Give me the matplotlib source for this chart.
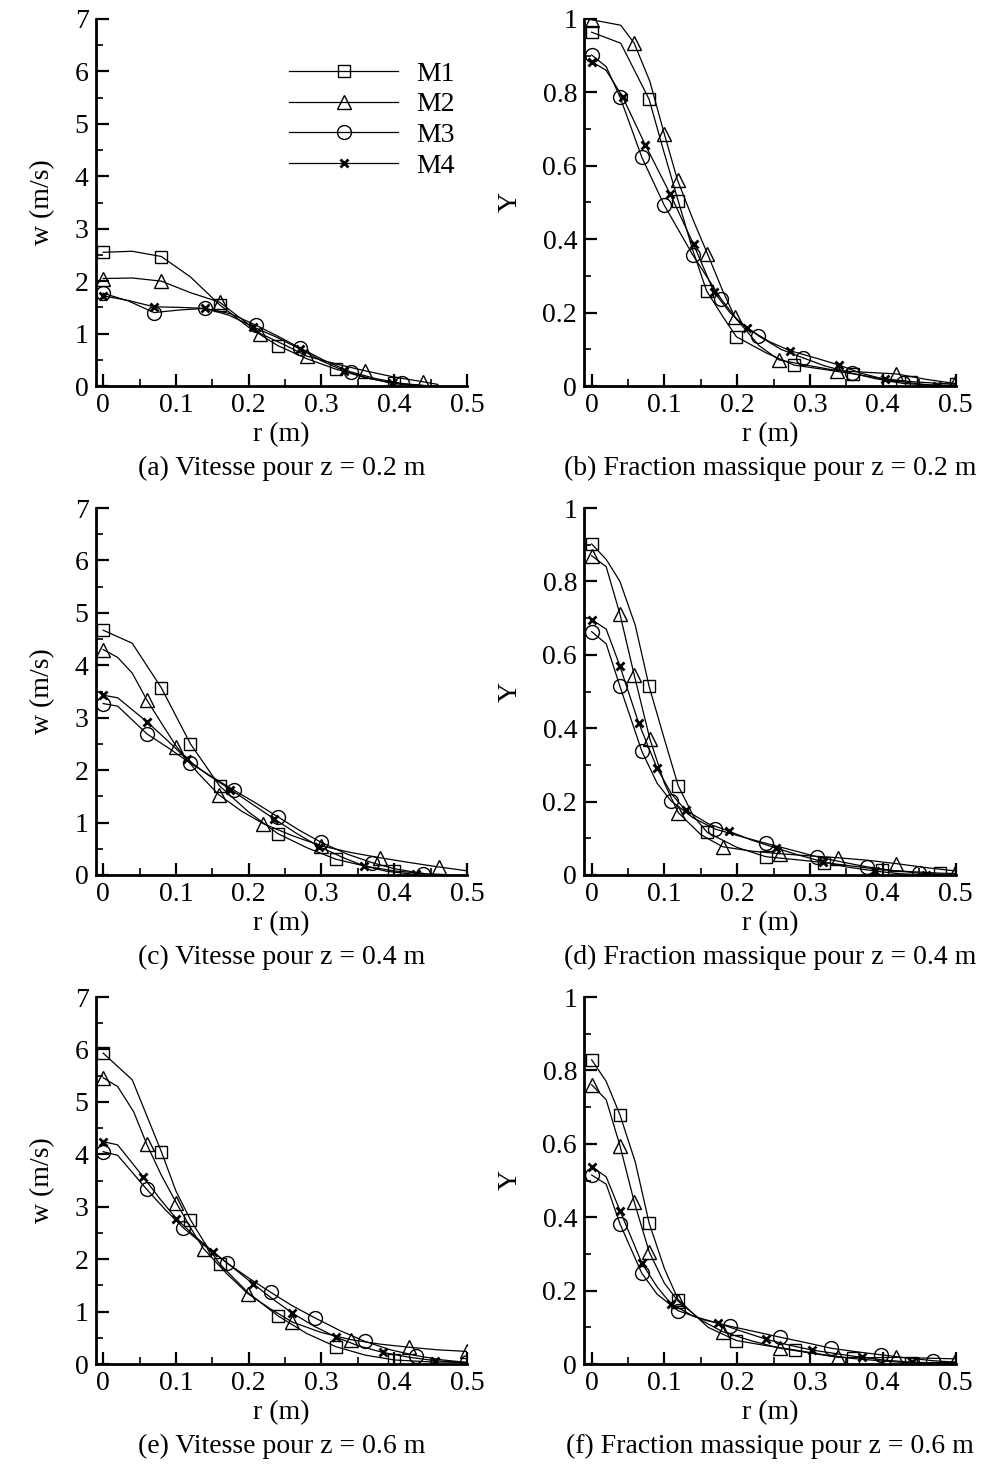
import matplotlib
matplotlib.use('Agg')
import matplotlib.pyplot as plt
from matplotlib.ticker import MultipleLocator

# ---- data read off the figure : r (m) and value, marker indices ----
# (a) w, z = 0.2 m
a_m1_r = [0, 0.04, 0.08, 0.12, 0.16, 0.20, 0.24, 0.28, 0.32, 0.36, 0.40, 0.44, 0.46]
a_m1_v = [2.55, 2.57, 2.47, 2.08, 1.55, 1.12, 0.77, 0.52, 0.32, 0.16, 0.05, 0.01, 0.0]
a_m1_mk = [0, 2, 4, 6, 8, 10]
a_m2_r = [0, 0.04, 0.08, 0.12, 0.16, 0.19, 0.216, 0.25, 0.28, 0.32, 0.36, 0.40, 0.44, 0.46]
a_m2_v = [2.05, 2.06, 2.0, 1.78, 1.6, 1.28, 1.0, 0.78, 0.57, 0.42, 0.29, 0.17, 0.08, 0.03]
a_m2_mk = [0, 2, 4, 6, 8, 10, 12]
a_m3_r = [0, 0.035, 0.07, 0.105, 0.14, 0.175, 0.21, 0.24, 0.27, 0.305, 0.34, 0.375, 0.41, 0.44]
a_m3_v = [1.77, 1.62, 1.40, 1.45, 1.48, 1.38, 1.16, 0.95, 0.73, 0.48, 0.27, 0.14, 0.05, 0.01]
a_m3_mk = [0, 2, 4, 6, 8, 10, 12]
a_m4_r = [0, 0.035, 0.07, 0.105, 0.14, 0.173, 0.206, 0.24, 0.271, 0.30, 0.331, 0.365, 0.397, 0.43]
a_m4_v = [1.72, 1.63, 1.51, 1.50, 1.48, 1.35, 1.13, 0.92, 0.70, 0.48, 0.29, 0.15, 0.05, 0.01]
a_m4_mk = [0, 2, 4, 6, 8, 10, 12]

# (b) Y, z = 0.2 m
b_m1_r = [0, 0.04, 0.079, 0.099, 0.119, 0.139, 0.158, 0.18, 0.199, 0.24, 0.278, 0.32, 0.359, 0.40, 0.439, 0.47, 0.5]
b_m1_v = [0.964, 0.934, 0.781, 0.64, 0.504, 0.37, 0.259, 0.19, 0.134, 0.09, 0.057, 0.045, 0.033, 0.02, 0.012, 0.008, 0.005]
b_m1_mk = [0, 2, 4, 6, 8, 10, 12, 14, 16]
b_m2_r = [0, 0.04, 0.0585, 0.08, 0.0997, 0.118, 0.14, 0.159, 0.18, 0.197, 0.23, 0.2575, 0.30, 0.3376, 0.38, 0.4186, 0.46, 0.499]
b_m2_v = [0.998, 0.983, 0.934, 0.83, 0.688, 0.561, 0.45, 0.361, 0.26, 0.187, 0.11, 0.071, 0.055, 0.042, 0.037, 0.033, 0.018, 0.007]
b_m2_mk = [0, 2, 4, 5, 7, 9, 11, 13, 15, 17]
b_m3_r = [0, 0.02, 0.0389, 0.069, 0.0997, 0.139, 0.178, 0.20, 0.229, 0.26, 0.29, 0.32, 0.358, 0.39, 0.428, 0.46, 0.5]
b_m3_v = [0.902, 0.87, 0.788, 0.623, 0.493, 0.357, 0.237, 0.18, 0.137, 0.10, 0.077, 0.055, 0.035, 0.02, 0.007, 0.003, 0.002]
b_m3_mk = [0, 2, 3, 4, 5, 6, 8, 10, 12, 14]
b_m4_r = [0, 0.02, 0.0425, 0.0737, 0.108, 0.14, 0.168, 0.19, 0.214, 0.245, 0.273, 0.31, 0.34, 0.37, 0.403, 0.44, 0.474, 0.5]
b_m4_v = [0.884, 0.86, 0.788, 0.657, 0.523, 0.386, 0.257, 0.2, 0.157, 0.12, 0.096, 0.075, 0.057, 0.035, 0.018, 0.008, 0.001, 0.0]
b_m4_mk = [0, 2, 3, 4, 5, 6, 8, 10, 12, 14, 16]

# (c) w, z = 0.4 m
c_m1_r = [0, 0.04, 0.08, 0.12, 0.16, 0.20, 0.24, 0.28, 0.32, 0.36, 0.40, 0.44]
c_m1_v = [4.67, 4.42, 3.57, 2.50, 1.70, 1.2, 0.79, 0.52, 0.30, 0.17, 0.077, 0.03]
c_m1_mk = [0, 2, 3, 4, 6, 8, 10]
c_m2_r = [0, 0.02, 0.04, 0.0604, 0.08, 0.1007, 0.13, 0.159, 0.19, 0.22, 0.26, 0.30, 0.34, 0.38, 0.42, 0.461, 0.5]
c_m2_v = [4.30, 4.15, 3.85, 3.33, 2.9, 2.45, 1.95, 1.53, 1.22, 0.98, 0.75, 0.555, 0.43, 0.33, 0.24, 0.153, 0.08]
c_m2_mk = [0, 3, 5, 7, 9, 11, 13, 15]
c_m3_r = [0, 0.02, 0.0604, 0.09, 0.12, 0.15, 0.1795, 0.21, 0.24, 0.27, 0.30, 0.335, 0.3695, 0.40, 0.44, 0.47]
c_m3_v = [3.27, 3.22, 2.69, 2.42, 2.13, 1.87, 1.62, 1.37, 1.11, 0.85, 0.62, 0.40, 0.236, 0.12, 0.026, 0.005]
c_m3_mk = [0, 2, 4, 6, 8, 10, 12, 14]
c_m4_r = [0, 0.02, 0.0604, 0.088, 0.115, 0.145, 0.175, 0.205, 0.235, 0.265, 0.297, 0.33, 0.359, 0.39, 0.43]
c_m4_v = [3.43, 3.38, 2.92, 2.57, 2.21, 1.9, 1.63, 1.35, 1.07, 0.8, 0.54, 0.33, 0.17, 0.07, 0.01]
c_m4_mk = [0, 2, 4, 6, 8, 10, 12, 14]

# (d) Y, z = 0.4 m
d_m1_r = [0, 0.02, 0.0389, 0.06, 0.079, 0.10, 0.119, 0.14, 0.159, 0.2, 0.239, 0.28, 0.319, 0.36, 0.399, 0.44, 0.479, 0.5]
d_m1_v = [0.902, 0.86, 0.80, 0.68, 0.514, 0.37, 0.243, 0.16, 0.116, 0.075, 0.050, 0.042, 0.034, 0.024, 0.014, 0.009, 0.005, 0.004]
d_m1_mk = [0, 4, 6, 8, 10, 12, 14, 16]
d_m2_r = [0, 0.02, 0.0389, 0.0586, 0.08, 0.10, 0.119, 0.15, 0.18, 0.22, 0.259, 0.30, 0.339, 0.38, 0.4186, 0.46, 0.5]
d_m2_v = [0.870, 0.84, 0.711, 0.544, 0.371, 0.25, 0.170, 0.11, 0.077, 0.065, 0.058, 0.052, 0.047, 0.04, 0.031, 0.02, 0.011]
d_m2_mk = [0, 2, 3, 4, 6, 8, 10, 12, 14, 16]
d_m3_r = [0, 0.02, 0.0389, 0.069, 0.09, 0.109, 0.14, 0.17, 0.205, 0.24, 0.275, 0.309, 0.345, 0.379, 0.415, 0.45, 0.48]
d_m3_v = [0.663, 0.63, 0.514, 0.337, 0.25, 0.202, 0.155, 0.125, 0.105, 0.086, 0.068, 0.050, 0.035, 0.022, 0.012, 0.005, 0.002]
d_m3_mk = [0, 2, 3, 5, 7, 9, 11, 13, 15]
d_m4_r = [0, 0.02, 0.0389, 0.0645, 0.0897, 0.11, 0.129, 0.16, 0.189, 0.22, 0.254, 0.285, 0.318, 0.35, 0.389, 0.42, 0.459, 0.49]
d_m4_v = [0.696, 0.67, 0.569, 0.415, 0.292, 0.22, 0.177, 0.14, 0.119, 0.095, 0.073, 0.054, 0.036, 0.022, 0.011, 0.004, 0.0, 0.0]
d_m4_mk = [0, 2, 3, 4, 6, 8, 10, 12, 14, 16]

# (e) w, z = 0.6 m
e_m1_r = [0, 0.04, 0.08, 0.10, 0.12, 0.14, 0.16, 0.20, 0.24, 0.28, 0.32, 0.36, 0.40, 0.45, 0.5]
e_m1_v = [5.93, 5.42, 4.05, 3.3, 2.75, 2.3, 1.91, 1.35, 0.92, 0.58, 0.33, 0.17, 0.077, 0.04, 0.03]
e_m1_mk = [0, 2, 4, 6, 8, 10, 12]
e_m2_r = [0, 0.02, 0.042, 0.06, 0.08, 0.1007, 0.12, 0.138, 0.17, 0.199, 0.23, 0.26, 0.30, 0.34, 0.38, 0.42, 0.46, 0.5]
e_m2_v = [5.46, 5.29, 4.81, 4.19, 3.6, 3.07, 2.6, 2.20, 1.72, 1.34, 1.05, 0.80, 0.6, 0.465, 0.38, 0.32, 0.27, 0.24]
e_m2_mk = [0, 3, 5, 7, 9, 11, 13, 15, 17]
e_m3_r = [0, 0.02, 0.06, 0.085, 0.11, 0.14, 0.17, 0.20, 0.23, 0.26, 0.291, 0.325, 0.36, 0.395, 0.43, 0.465, 0.5]
e_m3_v = [4.05, 3.98, 3.33, 2.95, 2.60, 2.25, 1.93, 1.64, 1.37, 1.11, 0.88, 0.64, 0.43, 0.27, 0.16, 0.08, 0.03]
e_m3_mk = [0, 2, 4, 6, 8, 10, 12, 14, 16]
e_m4_r = [0, 0.02, 0.055, 0.078, 0.1007, 0.125, 0.151, 0.18, 0.206, 0.233, 0.26, 0.29, 0.3205, 0.35, 0.3846, 0.42, 0.4556, 0.5]
e_m4_v = [4.24, 4.18, 3.57, 3.15, 2.77, 2.45, 2.14, 1.82, 1.53, 1.24, 0.97, 0.72, 0.51, 0.35, 0.22, 0.13, 0.064, 0.02]
e_m4_mk = [0, 2, 4, 6, 8, 10, 12, 14, 16]

# (f) Y, z = 0.6 m
f_m1_r = [0, 0.02, 0.0389, 0.06, 0.079, 0.10, 0.119, 0.16, 0.199, 0.24, 0.2795, 0.32, 0.359, 0.40, 0.439, 0.47, 0.5]
f_m1_v = [0.829, 0.77, 0.679, 0.55, 0.384, 0.26, 0.175, 0.10, 0.064, 0.05, 0.038, 0.025, 0.015, 0.008, 0.003, 0.004, 0.005]
f_m1_mk = [0, 2, 4, 6, 8, 10, 12, 14]
f_m2_r = [0, 0.02, 0.0389, 0.0586, 0.079, 0.10, 0.119, 0.15, 0.18, 0.22, 0.259, 0.30, 0.339, 0.38, 0.4186, 0.46, 0.5]
f_m2_v = [0.761, 0.72, 0.595, 0.441, 0.306, 0.22, 0.171, 0.12, 0.088, 0.063, 0.043, 0.03, 0.018, 0.017, 0.018, 0.016, 0.014]
f_m2_mk = [0, 2, 3, 4, 6, 8, 10, 12, 14, 16]
f_m3_r = [0, 0.02, 0.0389, 0.069, 0.09, 0.119, 0.155, 0.19, 0.225, 0.259, 0.295, 0.329, 0.365, 0.398, 0.435, 0.469, 0.5]
f_m3_v = [0.515, 0.49, 0.382, 0.247, 0.19, 0.145, 0.12, 0.103, 0.088, 0.073, 0.058, 0.043, 0.033, 0.025, 0.016, 0.009, 0.005]
f_m3_mk = [0, 2, 3, 5, 7, 9, 11, 13, 15]
f_m4_r = [0, 0.02, 0.0389, 0.069, 0.09, 0.109, 0.14, 0.174, 0.205, 0.239, 0.27, 0.303, 0.34, 0.372, 0.405, 0.4405, 0.47, 0.5]
f_m4_v = [0.538, 0.51, 0.418, 0.275, 0.21, 0.164, 0.13, 0.111, 0.09, 0.068, 0.052, 0.038, 0.027, 0.018, 0.01, 0.005, 0.003, 0.002]
f_m4_mk = [0, 2, 3, 5, 7, 9, 11, 13, 15]

labels = ['M1', 'M2', 'M3', 'M4']
captions = ['(a) Vitesse pour z = 0.2 m', '(b) Fraction massique pour z = 0.2 m',
            '(c) Vitesse pour z = 0.4 m', '(d) Fraction massique pour z = 0.4 m',
            '(e) Vitesse pour z = 0.6 m', '(f) Fraction massique pour z = 0.6 m']

panels = [
    [(a_m1_r, a_m1_v, a_m1_mk), (a_m2_r, a_m2_v, a_m2_mk), (a_m3_r, a_m3_v, a_m3_mk), (a_m4_r, a_m4_v, a_m4_mk)],
    [(b_m1_r, b_m1_v, b_m1_mk), (b_m2_r, b_m2_v, b_m2_mk), (b_m3_r, b_m3_v, b_m3_mk), (b_m4_r, b_m4_v, b_m4_mk)],
    [(c_m1_r, c_m1_v, c_m1_mk), (c_m2_r, c_m2_v, c_m2_mk), (c_m3_r, c_m3_v, c_m3_mk), (c_m4_r, c_m4_v, c_m4_mk)],
    [(d_m1_r, d_m1_v, d_m1_mk), (d_m2_r, d_m2_v, d_m2_mk), (d_m3_r, d_m3_v, d_m3_mk), (d_m4_r, d_m4_v, d_m4_mk)],
    [(e_m1_r, e_m1_v, e_m1_mk), (e_m2_r, e_m2_v, e_m2_mk), (e_m3_r, e_m3_v, e_m3_mk), (e_m4_r, e_m4_v, e_m4_mk)],
    [(f_m1_r, f_m1_v, f_m1_mk), (f_m2_r, f_m2_v, f_m2_mk), (f_m3_r, f_m3_v, f_m3_mk), (f_m4_r, f_m4_v, f_m4_mk)],
]

markers = [dict(marker='s', markersize=8.5, markerfacecolor='none', markeredgewidth=1.0),
           dict(marker='^', markersize=10, markerfacecolor='none', markeredgewidth=1.0),
           dict(marker='o', markersize=10, markerfacecolor='none', markeredgewidth=1.0),
           dict(marker='x', markersize=5.5, markeredgewidth=2.0)]

plt.rcParams['font.family'] = ['Liberation Serif', 'DejaVu Serif']

W, H = 983, 1464
fig = plt.figure(figsize=(W / 100., H / 100.), dpi=100)

lefts = [95.5, 584]
tops = [19, 508, 997]
aw, ah = 371.5, 367
fs = 20

for i in range(6):
    row, col = i // 2, i % 2
    l, t = lefts[col], tops[row]
    ax = fig.add_axes([l / W, 1 - (t + ah) / H, aw / W, ah / H])
    for k, (r, v, mk) in enumerate(panels[i]):
        ax.plot(r, v, color='black', linewidth=0.9, markevery=mk,
                label=labels[k], markeredgecolor='black', **markers[k])

    ax.set_xlim(-0.0105, 0.5)
    ax.xaxis.set_minor_locator(MultipleLocator(0.05))
    ax.set_xticks([0, 0.1, 0.2, 0.3, 0.4, 0.5])
    ax.set_xticklabels(['0', '0.1', '0.2', '0.3', '0.4', '0.5'])
    if col == 0:
        ax.set_ylim(0, 7)
        ax.yaxis.set_major_locator(MultipleLocator(1))
        ax.yaxis.set_minor_locator(MultipleLocator(0.5))
        ax.set_ylabel('w (m/s)', fontsize=fs, labelpad=14)
    else:
        ax.set_ylim(0, 1)
        ax.yaxis.set_minor_locator(MultipleLocator(0.1))
        ax.set_yticks([0, 0.2, 0.4, 0.6, 0.8, 1.0])
        ax.set_yticklabels(['0', '0.2', '0.4', '0.6', '0.8', '1'])
        ax.set_ylabel('Y', fontsize=fs, labelpad=14)
    ax.set_xlabel('r (m)', fontsize=fs, labelpad=3)

    for s in ['top', 'right']:
        ax.spines[s].set_visible(False)
    for s in ['left', 'bottom']:
        ax.spines[s].set_linewidth(2)
    ax.tick_params(which='major', direction='in', length=9, width=1.6, labelsize=fs, pad=5)
    ax.tick_params(which='minor', direction='in', length=5, width=1.2)

    ax.text(0.5, -0.19, captions[i], transform=ax.transAxes, ha='center', va='top', fontsize=fs)

    if i == 0:
        ax.legend(loc='upper left', bbox_to_anchor=(0.492, 0.915), frameon=False,
                  fontsize=fs, handlelength=3.9, handletextpad=0.68,
                  labelspacing=0.19, borderaxespad=0)

fig.savefig('out.png', dpi=100)
